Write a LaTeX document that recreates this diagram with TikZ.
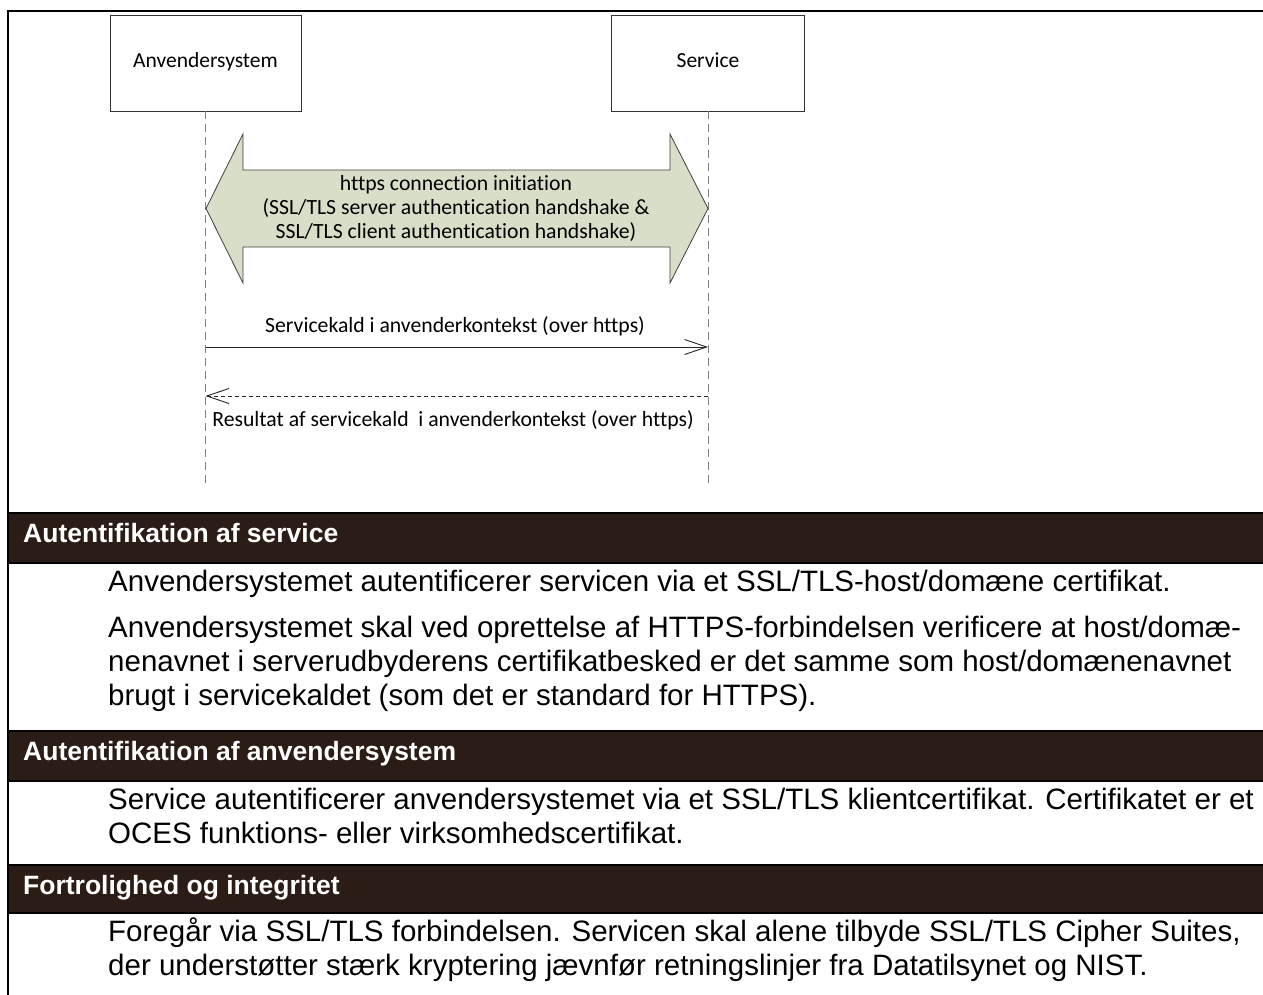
\documentclass[tikz,border=0pt]{standalone}
\usepackage{fontspec}
\setmainfont{Liberation Sans}
\newfontfamily\calibrifont[Ligatures={NoCommon}]{Carlito}
\usetikzlibrary{arrows.meta}
\definecolor{bandbrown}{HTML}{2B1D16}
\definecolor{arrowfill}{HTML}{D9DEC9}
\definecolor{lifegray}{HTML}{7F7F7F}
\begin{document}
\begin{tikzpicture}[x=1pt,y=-1pt,
  actor/.style={draw=black!80, line width=0.8pt, minimum width=191pt, minimum height=96pt, font=\calibrifont\fontsize{21.5}{24}\selectfont, inner sep=0, text height=14pt, text depth=5pt},
  lifeline/.style={draw=lifegray, line width=1pt, dash pattern=on 8pt off 5pt},
  diagtext/.style={font=\calibrifont\fontsize{21.7}{24}\selectfont, inner sep=0, anchor=base},
  bodytext/.style={font=\fontsize{29.5}{34}\selectfont, inner sep=0, anchor=base west},
  headtext/.style={font=\bfseries\fontsize{26.5}{30}\selectfont, text=white, inner sep=0, anchor=base west},
  band/.style={fill=bandbrown, draw=black, line width=1.5pt},
  msg/.style={draw=black!85, line width=0.9pt, -{Straight Barb[length=22pt,width=15pt]}},
  reply/.style={msg, dash pattern=on 4pt off 3pt}
]
\useasboundingbox (0,0) rectangle (1263,994);
\fill[white] (0,0) rectangle (1263,994);

% actors
\node[actor] (A) at (205.5,63) {Anvendersystem};
\node[actor, minimum width=193pt] (S) at (708,63) {Service};
\coordinate (Aend) at (205.5,488);
\coordinate (Send) at (708,488);
\draw[lifeline] (A.south) -- (Aend);
\draw[lifeline] (S.south) -- (Send);

% double arrow
\draw[fill=arrowfill, draw=black!75, line width=0.8pt]
  (206,208.5) -- (243,134) -- (243,170) -- (670,170) -- (670,134) -- (708,208.5)
  -- (670,283) -- (670,247) -- (243,247) -- (243,283) -- cycle;
\node[diagtext] (h1) at (456,190) {https connection initiation};
\node[diagtext] (h2) at (456,214) {(SSL/TLS server authentication handshake \&};
\node[diagtext] (h3) at (456,238) {SSL/TLS client authentication handshake)};

% messages
\coordinate (m1a) at (205.5,347);
\coordinate (m1b) at (708,347);
\coordinate (m2a) at (708,396);
\coordinate (m2b) at (205.5,396);
\node[diagtext] (l1) at (455,332) {Servicekald i anvenderkontekst (over https)};
\draw[msg] (m1a) -- (m1b);
\draw[reply] (m2a) -- (m2b);
\node[diagtext] (l2) at (453,426) {Resultat af servicekald \ i anvenderkontekst (over https)};

% bands
\draw[band] (8,513) rectangle (1268,563);
\node[headtext] (t1) at (23,542) {Autentifikation af service};
\draw[band] (8,731) rectangle (1268,781);
\node[headtext] (t2) at (23,760) {Autentifikation af anvendersystem};
\draw[band] (8,865) rectangle (1268,913);
\node[headtext] (t3) at (23,894) {Fortrolighed og integritet};

% body text
\node[bodytext] (p1) at (108,591) {Anvendersystemet autentificerer servicen via et SSL/TLS-host/domæne certifikat.};
\node[bodytext] (p2) at (108,637) {Anvendersystemet skal ved oprettelse af HTTPS-forbindelsen verificere at host/domæ-};
\node[bodytext] (p3) at (108,671) {nenavnet i serverudbyderens certifikatbesked er det samme som host/domænenavnet};
\node[bodytext] (p4) at (108,705) {brugt i servicekaldet (som det er standard for HTTPS).};
\node[bodytext] (p5) at (108,809) {Service autentificerer anvendersystemet via et SSL/TLS klientcertifikat. Certifikatet er et};
\node[bodytext] (p6) at (108,843) {OCES funktions- eller virksomhedscertifikat.};
\node[bodytext] (p7) at (108,941) {Foregår via SSL/TLS forbindelsen. Servicen skal alene tilbyde SSL/TLS Cipher Suites,};
\node[bodytext] (p8) at (108,975) {der understøtter stærk kryptering jævnfør retningslinjer fra Datatilsynet og NIST.};

% frame
\draw[line width=2.5pt] (1268,11) -- (8,11) -- (8,998);
\end{tikzpicture}
\end{document}
